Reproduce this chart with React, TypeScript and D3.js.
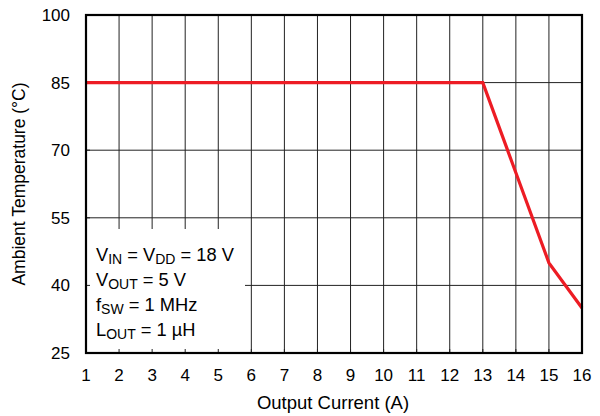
import React from "react";
import * as d3 from "d3";

const xTicks = [1, 2, 3, 4, 5, 6, 7, 8, 9, 10, 11, 12, 13, 14, 15, 16];
const yTicks = [25, 40, 55, 70, 85, 100];
const currentA = [1, 13, 14, 15, 16];
const ambientC = [85, 85, 65, 45, 35];
const legendLines = [
  [["V", ""], ["IN", "sub"], [" = V", ""], ["DD", "sub"], [" = 18 V", ""]],
  [["V", ""], ["OUT", "sub"], [" = 5 V", ""]],
  [["f", ""], ["SW", "sub"], [" = 1 MHz", ""]],
  [["L", ""], ["OUT", "sub"], [" = 1 µH", ""]],
];
const xTitle = "Output Current (A)";
const yTitle = "Ambient Temperature (°C)";

const W = 600, H = 416;
const M = { left: 86, right: 582, top: 15, bottom: 353 };
const FONT = "Liberation Sans, Arial, sans-serif";

export default function App() {
  const x = d3.scaleLinear().domain([1, 16]).range([M.left, M.right]);
  const y = d3.scaleLinear().domain([25, 100]).range([M.bottom, M.top]);
  const line = d3
    .line<number>()
    .x((_, i) => x(currentA[i]))
    .y((d) => y(d));
  const pts = ambientC;

  const legX0 = M.left + 1;
  const legX1 = 245;
  const legY0 = 229;

  return (
    <svg
      width={W}
      height={H}
      style={{ position: "absolute", left: 0, top: 0, background: "#fff" }}
      fontFamily={FONT}
    >
      <rect x={0} y={0} width={W} height={H} fill="#fff" />
      {/* grid */}
      {xTicks.map((t) => (
        <line key={"gx" + t} x1={x(t)} x2={x(t)} y1={M.top} y2={M.bottom} stroke="#222" strokeWidth={1} />
      ))}
      {yTicks.map((t) => (
        <line key={"gy" + t} x1={M.left} x2={M.right} y1={y(t)} y2={y(t)} stroke="#222" strokeWidth={1} />
      ))}
      {/* legend box */}
      <rect x={legX0} y={legY0} width={legX1 - legX0} height={M.bottom - legY0 - 1} fill="#fff" />
      {/* inward ticks */}
      {xTicks.map((t) => (
        <line key={"tx" + t} x1={x(t)} x2={x(t)} y1={M.bottom} y2={M.bottom - 4} stroke="#222" strokeWidth={1} />
      ))}
      {yTicks.map((t) => (
        <line key={"ty" + t} x1={M.left} x2={M.left + 4} y1={y(t)} y2={y(t)} stroke="#222" strokeWidth={1} />
      ))}
      {/* data */}
      <path d={line(pts) || ""} fill="none" stroke="#ed1c24" strokeWidth={3.2} strokeLinejoin="miter" />
      {/* frame */}
      <rect
        x={M.left}
        y={M.top}
        width={M.right - M.left}
        height={M.bottom - M.top}
        fill="none"
        stroke="#000"
        strokeWidth={2.2}
      />
      {/* tick labels */}
      {xTicks.map((t) => (
        <text key={"lx" + t} x={x(t)} y={381} textAnchor="middle" fontSize={17} fill="#000">
          {t}
        </text>
      ))}
      {yTicks.map((t) => (
        <text key={"ly" + t} x={70} y={y(t) + 6} textAnchor="end" fontSize={17} fill="#000">
          {t}
        </text>
      ))}
      {/* titles */}
      <text x={(M.left + M.right) / 2 - 1} y={409} textAnchor="middle" fontSize={18.5} fill="#000">
        {xTitle}
      </text>
      <text
        transform={`translate(25,${(M.top + M.bottom) / 2}) rotate(-90)`}
        textAnchor="middle"
        fontSize={17.5}
        fill="#000"
      >
        {yTitle}
      </text>
      {/* legend text */}
      {legendLines.map((ln, i) => (
        <text key={"lg" + i} x={96} y={260.5 + i * 25.3} fontSize={18.3} fill="#000">
          {ln.map(([s, k], j) =>
            k === "sub" ? (
              <tspan key={j} fontSize={14} dy={3}>
                {s}
              </tspan>
            ) : (
              <tspan key={j} dy={j > 0 && ln[j - 1][1] === "sub" ? -3 : 0}>
                {s}
              </tspan>
            )
          )}
        </text>
      ))}
    </svg>
  );
}
